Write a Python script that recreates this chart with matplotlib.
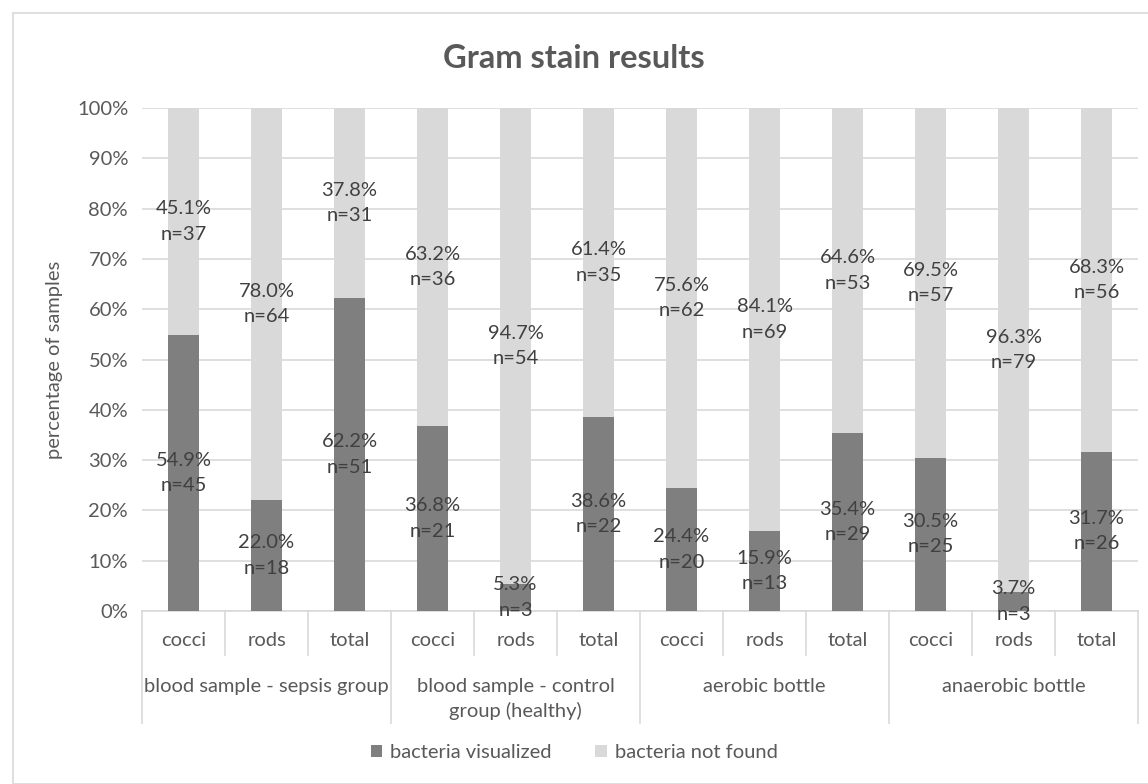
import numpy as np
import matplotlib.pyplot as plt
from matplotlib.patches import Rectangle
import matplotlib.transforms as mtransforms

plt.rcParams['font.family'] = ['Lato', 'DejaVu Sans']

# data
groups = ["blood sample - sepsis group", "blood sample - control\ngroup (healthy)",
          "aerobic bottle", "anaerobic bottle"]
subcats = ["cocci", "rods", "total"]
visualized_pct = [54.9, 22.0, 62.2, 36.8, 5.3, 38.6, 24.4, 15.9, 35.4, 30.5, 3.7, 31.7]
visualized_n = [45, 18, 51, 21, 3, 22, 20, 13, 29, 25, 3, 26]
notfound_pct = [45.1, 78.0, 37.8, 63.2, 94.7, 61.4, 75.6, 84.1, 64.6, 69.5, 96.3, 68.3]
notfound_n = [37, 64, 31, 36, 54, 35, 62, 69, 53, 57, 79, 56]

dark = "#7f7f7f"
light = "#d9d9d9"
txt = "#595959"
fs = 14.5

fig = plt.figure(figsize=(11.48, 7.84), dpi=100)
ax = fig.add_axes([0.1237, 0.2207, 0.8676, 0.6415])

x = np.arange(len(visualized_pct))
vis = np.array(visualized_pct) / 100
nf = np.array(notfound_pct) / 100
w = 0.37
ax.bar(x, vis, w, color=dark, label="bacteria visualized", zorder=3)
ax.bar(x, nf, w, bottom=vis, color=light, label="bacteria not found", zorder=3)

# data labels in the middle of each segment
for i in range(len(x)):
    ax.text(x[i], vis[i] / 2, f"{visualized_pct[i]:.1f}%\nn={visualized_n[i]}",
            ha="center", va="center", fontsize=fs, color="#404040",
            linespacing=1.6, zorder=4)
    ax.text(x[i], vis[i] + nf[i] / 2, f"{notfound_pct[i]:.1f}%\nn={notfound_n[i]}",
            ha="center", va="center", fontsize=fs, color="#404040",
            linespacing=1.6, zorder=4)

ax.set_xlim(-0.5, len(x) - 0.5)
ax.set_ylim(0, 1)
ax.set_yticks(np.arange(0, 1.01, 0.1))
ax.set_yticklabels([f"{int(round(v * 100))}%" for v in np.arange(0, 1.01, 0.1)])
ax.tick_params(axis="y", length=0, labelsize=fs, labelcolor=txt, pad=10)
ax.tick_params(axis="x", length=0, labelbottom=False)
ax.yaxis.grid(True, color=light, lw=1.2, zorder=0)
ax.set_axisbelow(True)
for s in ["top", "right", "left"]:
    ax.spines[s].set_visible(False)
ax.spines["bottom"].set_color(light)
ax.spines["bottom"].set_linewidth(1.2)
ax.set_ylabel("percentage of samples", fontsize=fs, color=txt, labelpad=10)

# multi-level category axis
trans = mtransforms.blended_transform_factory(ax.transData, ax.transAxes)
for i in range(len(x)):
    ax.text(x[i], -0.058, subcats[i % 3], transform=trans, ha="center", va="center",
            fontsize=fs, color=txt)
for g in range(len(groups)):
    ax.text(3 * g + 1, -0.133, groups[g], transform=trans, ha="center", va="top",
            fontsize=fs, color=txt, linespacing=1.45)
for b in range(len(x) + 1):
    low = -0.2227 if b % 3 == 0 else -0.0875
    ax.plot([b - 0.5, b - 0.5], [0, low], transform=trans, color=light, lw=1.2,
            clip_on=False)

fig.text(0.5, 0.926, "Gram stain results", ha="center", va="center",
         fontsize=23.5, fontweight="bold", color=txt)

fig.legend(loc="center", bbox_to_anchor=(0.5, 0.04), ncol=2, frameon=False,
           fontsize=fs, labelcolor=txt, handlelength=0.55, handleheight=0.55,
           handletextpad=0.4, columnspacing=2.2)

fig.patches.append(Rectangle((13 / 1148, 0), 1.1, 1 - 13 / 784, transform=fig.transFigure,
                             fill=False, edgecolor=light, lw=1.2))

fig.savefig("out.png", dpi=100)
